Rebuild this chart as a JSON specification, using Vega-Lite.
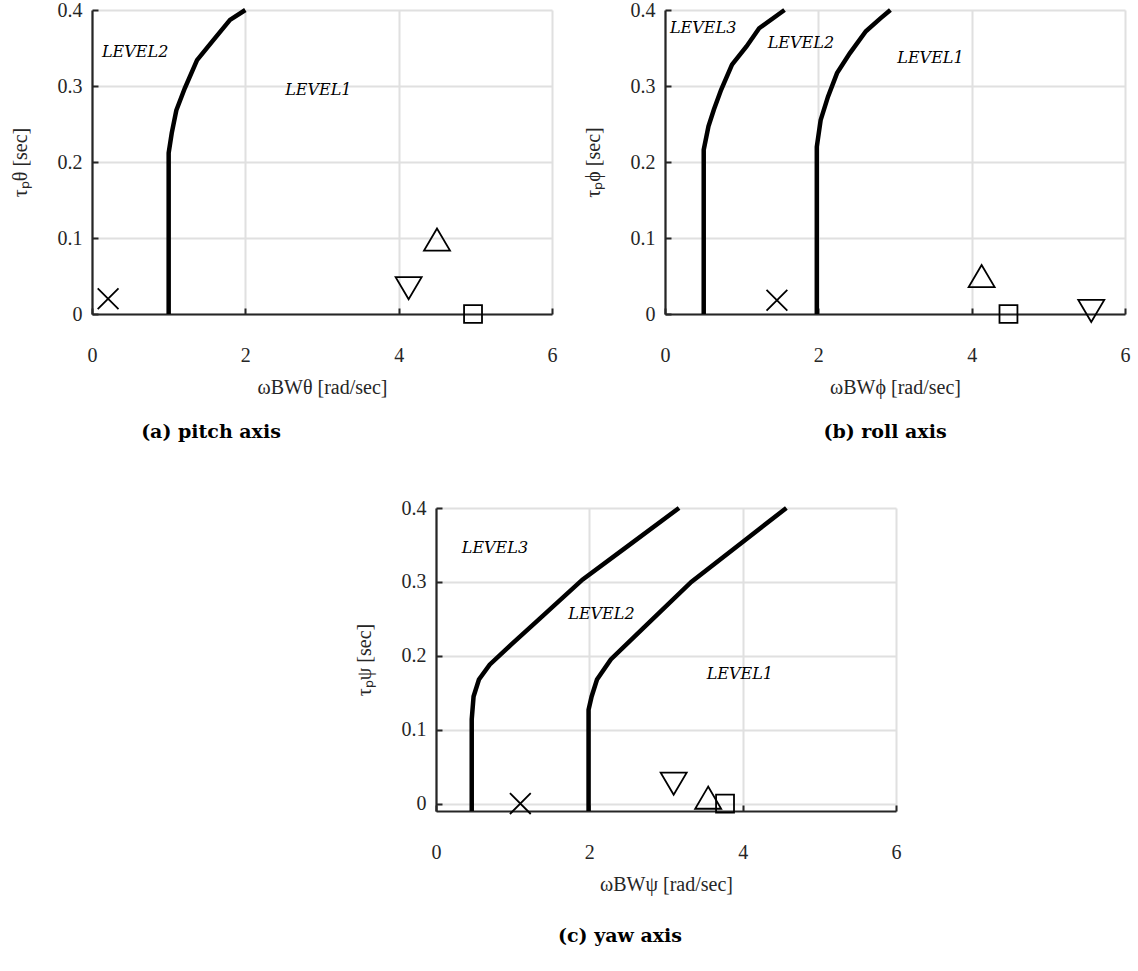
{
  "$schema": "https://vega.github.io/schema/vega-lite/v6.json",
  "background": "white",
  "padding": {"left": 10, "top": 0, "right": 5, "bottom": 5},
  "config": {
    "view": {"stroke": null},
    "concat": {"spacing": 0},
    "axis": {
      "domainColor": "#262626", "domainWidth": 2.2,
      "tickColor": "#262626", "tickWidth": 2, "tickSize": -6,
      "gridColor": "#e0e0e0", "gridWidth": 2, "gridOpacity": 1,
      "labelFont": "Liberation Serif", "labelFontSize": 20, "labelColor": "#262626",
      "labelFlush": false, "labelOverlap": false,
      "titleFont": "Liberation Serif", "titleFontSize": 20, "titleFontWeight": "normal", "titleColor": "#262626"
    },
    "axisX": {"labelPadding": 37, "titlePadding": 12},
    "axisY": {"labelPadding": 16, "titlePadding": 27},
    "title": {"font": "DejaVu Serif", "fontSize": 19, "fontWeight": "bold", "color": "#000000"}
  },
  "datasets": {
    "a_curves": [
      {"curve": "L1", "w": 1.0, "tau": 0.0},
      {"curve": "L1", "w": 1.0, "tau": 0.212},
      {"curve": "L1", "w": 1.04, "tau": 0.238},
      {"curve": "L1", "w": 1.10, "tau": 0.268},
      {"curve": "L1", "w": 1.21, "tau": 0.297},
      {"curve": "L1", "w": 1.37, "tau": 0.334},
      {"curve": "L1", "w": 1.58, "tau": 0.360},
      {"curve": "L1", "w": 1.80, "tau": 0.387},
      {"curve": "L1", "w": 2.0, "tau": 0.4}
    ],
    "a_points": [
      {"m": "x", "w": 0.21, "tau": 0.02},
      {"m": "up", "w": 4.5, "tau": 0.098},
      {"m": "down", "w": 4.13, "tau": 0.034},
      {"m": "square", "w": 4.97, "tau": 0.0}
    ],
    "a_text": [
      {"label": "LEVEL2", "w": 0.13, "tau": 0.345},
      {"label": "LEVEL1", "w": 2.52, "tau": 0.295}
    ],
    "b_curves": [
      {"curve": "L3", "w": 0.505, "tau": 0.0},
      {"curve": "L3", "w": 0.505, "tau": 0.216},
      {"curve": "L3", "w": 0.567, "tau": 0.247},
      {"curve": "L3", "w": 0.638, "tau": 0.269},
      {"curve": "L3", "w": 0.732, "tau": 0.295},
      {"curve": "L3", "w": 0.874, "tau": 0.328},
      {"curve": "L3", "w": 1.063, "tau": 0.352},
      {"curve": "L3", "w": 1.228, "tau": 0.376},
      {"curve": "L3", "w": 1.559, "tau": 0.4},
      {"curve": "L2", "w": 1.98, "tau": 0.0},
      {"curve": "L2", "w": 1.98, "tau": 0.22},
      {"curve": "L2", "w": 2.03, "tau": 0.255},
      {"curve": "L2", "w": 2.126, "tau": 0.286},
      {"curve": "L2", "w": 2.244, "tau": 0.317},
      {"curve": "L2", "w": 2.41, "tau": 0.343},
      {"curve": "L2", "w": 2.62, "tau": 0.372},
      {"curve": "L2", "w": 2.81, "tau": 0.389},
      {"curve": "L2", "w": 2.94, "tau": 0.4}
    ],
    "b_points": [
      {"m": "x", "w": 1.46, "tau": 0.018},
      {"m": "up", "w": 4.13, "tau": 0.05},
      {"m": "square", "w": 4.48, "tau": 0.0},
      {"m": "down", "w": 5.56, "tau": 0.004}
    ],
    "b_text": [
      {"label": "LEVEL3", "w": 0.065, "tau": 0.376},
      {"label": "LEVEL2", "w": 1.34, "tau": 0.357},
      {"label": "LEVEL1", "w": 3.03, "tau": 0.337}
    ],
    "c_curves": [
      {"curve": "L3", "w": 0.466, "tau": -0.01},
      {"curve": "L3", "w": 0.466, "tau": 0.114},
      {"curve": "L3", "w": 0.49, "tau": 0.145},
      {"curve": "L3", "w": 0.56, "tau": 0.168},
      {"curve": "L3", "w": 0.70, "tau": 0.188},
      {"curve": "L3", "w": 0.98, "tau": 0.215},
      {"curve": "L3", "w": 1.35, "tau": 0.250},
      {"curve": "L3", "w": 1.91, "tau": 0.303},
      {"curve": "L3", "w": 2.47, "tau": 0.346},
      {"curve": "L3", "w": 3.17, "tau": 0.4},
      {"curve": "L2", "w": 1.99, "tau": -0.01},
      {"curve": "L2", "w": 1.99, "tau": 0.127},
      {"curve": "L2", "w": 2.03, "tau": 0.145},
      {"curve": "L2", "w": 2.10, "tau": 0.168},
      {"curve": "L2", "w": 2.28, "tau": 0.195},
      {"curve": "L2", "w": 2.70, "tau": 0.237},
      {"curve": "L2", "w": 3.33, "tau": 0.300},
      {"curve": "L2", "w": 4.0, "tau": 0.354},
      {"curve": "L2", "w": 4.57, "tau": 0.4}
    ],
    "c_points": [
      {"m": "x", "w": 1.10, "tau": 0.0},
      {"m": "down", "w": 3.10, "tau": 0.027},
      {"m": "up", "w": 3.55, "tau": 0.008},
      {"m": "square", "w": 3.77, "tau": 0.0}
    ],
    "c_text": [
      {"label": "LEVEL3", "w": 0.336, "tau": 0.346},
      {"label": "LEVEL2", "w": 1.725, "tau": 0.256},
      {"label": "LEVEL1", "w": 3.53, "tau": 0.176}
    ],
    "spacer": [{}]
  },
  "spacing": 56,
  "vconcat": [
    {
      "spacing": 26,
      "hconcat": [
        {
          "width": 460, "height": 304,
          "title": {"text": "(a) pitch axis", "orient": "bottom", "anchor": "middle", "frame": "group", "dx": -111, "offset": 26},
          "layer": [
            {
              "data": {"name": "a_curves"},
              "mark": {"type": "line", "color": "#000000", "strokeWidth": 4.5},
              "encoding": {
                "x": {"field": "w", "type": "quantitative", "scale": {"domain": [0, 6], "nice": false}, "axis": {"values": [0, 2, 4, 6], "format": "d", "title": "ωBWθ  [rad/sec]"}},
                "y": {"field": "tau", "type": "quantitative", "scale": {"domain": [0, 0.4], "nice": false, "zero": false}, "axis": {"values": [0, 0.1, 0.2, 0.3, 0.4], "format": "~g", "title": "τₚθ  [sec]"}},
                "detail": {"field": "curve", "type": "nominal"},
                "order": {"field": "tau", "type": "quantitative"}
              }
            },
            {
              "data": {"name": "a_points"},
              "mark": {"type": "point", "filled": false, "color": "#000000", "strokeWidth": 1.8, "opacity": 1, "size": 676},
              "encoding": {
                "x": {"field": "w", "type": "quantitative", "scale": {"domain": [0, 6], "nice": false}, "axis": {"values": [0, 2, 4, 6], "format": "d", "title": "ωBWθ  [rad/sec]"}},
                "y": {"field": "tau", "type": "quantitative", "scale": {"domain": [0, 0.4], "nice": false, "zero": false}, "axis": {"values": [0, 0.1, 0.2, 0.3, 0.4], "format": "~g", "title": "τₚθ  [sec]"}},
                "shape": {"field": "m", "type": "nominal", "scale": {"domain": ["x", "up", "down", "square"], "range": ["M-0.8,-0.8L0.8,0.8M-0.8,0.8L0.8,-0.8", "M0,-0.85L-1,0.85L1,0.85Z", "M0,0.85L-1,-0.85L1,-0.85Z", "M-0.69,-0.69H0.69V0.69H-0.69Z"]}, "legend": null}
              }
            },
            {
              "data": {"name": "a_text"},
              "mark": {"type": "text", "align": "left", "baseline": "middle", "font": "DejaVu Serif", "fontStyle": "italic", "fontSize": 16, "color": "#000000"},
              "encoding": {
                "x": {"field": "w", "type": "quantitative", "scale": {"domain": [0, 6], "nice": false}, "axis": {"values": [0, 2, 4, 6], "format": "d", "title": "ωBWθ  [rad/sec]"}},
                "y": {"field": "tau", "type": "quantitative", "scale": {"domain": [0, 0.4], "nice": false, "zero": false}, "axis": {"values": [0, 0.1, 0.2, 0.3, 0.4], "format": "~g", "title": "τₚθ  [sec]"}},
                "text": {"field": "label", "type": "nominal"}
              }
            }
          ]
        },
        {
          "width": 460, "height": 304,
          "title": {"text": "(b) roll axis", "orient": "bottom", "anchor": "middle", "frame": "group", "dx": -10, "offset": 26},
          "layer": [
            {
              "data": {"name": "b_curves"},
              "mark": {"type": "line", "color": "#000000", "strokeWidth": 4.5},
              "encoding": {
                "x": {"field": "w", "type": "quantitative", "scale": {"domain": [0, 6], "nice": false}, "axis": {"values": [0, 2, 4, 6], "format": "d", "title": "ωBWϕ  [rad/sec]"}},
                "y": {"field": "tau", "type": "quantitative", "scale": {"domain": [0, 0.4], "nice": false, "zero": false}, "axis": {"values": [0, 0.1, 0.2, 0.3, 0.4], "format": "~g", "title": "τₚϕ  [sec]"}},
                "detail": {"field": "curve", "type": "nominal"},
                "order": {"field": "tau", "type": "quantitative"}
              }
            },
            {
              "data": {"name": "b_points"},
              "mark": {"type": "point", "filled": false, "color": "#000000", "strokeWidth": 1.8, "opacity": 1, "size": 676},
              "encoding": {
                "x": {"field": "w", "type": "quantitative", "scale": {"domain": [0, 6], "nice": false}, "axis": {"values": [0, 2, 4, 6], "format": "d", "title": "ωBWϕ  [rad/sec]"}},
                "y": {"field": "tau", "type": "quantitative", "scale": {"domain": [0, 0.4], "nice": false, "zero": false}, "axis": {"values": [0, 0.1, 0.2, 0.3, 0.4], "format": "~g", "title": "τₚϕ  [sec]"}},
                "shape": {"field": "m", "type": "nominal", "scale": {"domain": ["x", "up", "down", "square"], "range": ["M-0.8,-0.8L0.8,0.8M-0.8,0.8L0.8,-0.8", "M0,-0.85L-1,0.85L1,0.85Z", "M0,0.85L-1,-0.85L1,-0.85Z", "M-0.69,-0.69H0.69V0.69H-0.69Z"]}, "legend": null}
              }
            },
            {
              "data": {"name": "b_text"},
              "mark": {"type": "text", "align": "left", "baseline": "middle", "font": "DejaVu Serif", "fontStyle": "italic", "fontSize": 16, "color": "#000000"},
              "encoding": {
                "x": {"field": "w", "type": "quantitative", "scale": {"domain": [0, 6], "nice": false}, "axis": {"values": [0, 2, 4, 6], "format": "d", "title": "ωBWϕ  [rad/sec]"}},
                "y": {"field": "tau", "type": "quantitative", "scale": {"domain": [0, 0.4], "nice": false, "zero": false}, "axis": {"values": [0, 0.1, 0.2, 0.3, 0.4], "format": "~g", "title": "τₚϕ  [sec]"}},
                "text": {"field": "label", "type": "nominal"}
              }
            }
          ]
        }
      ]
    },
    {
      "spacing": 0,
      "hconcat": [
        {
          "width": 262, "height": 10,
          "data": {"name": "spacer"},
          "mark": {"type": "point", "opacity": 0},
          "encoding": {}
        },
        {
          "width": 460, "height": 303,
          "title": {"text": "(c) yaw axis", "orient": "bottom", "anchor": "middle", "frame": "group", "dx": -46, "offset": 33},
          "layer": [
            {
              "data": {"name": "c_curves"},
              "mark": {"type": "line", "color": "#000000", "strokeWidth": 4.5},
              "encoding": {
                "x": {"field": "w", "type": "quantitative", "scale": {"domain": [0, 6], "nice": false}, "axis": {"values": [0, 2, 4, 6], "format": "d", "title": "ωBWψ  [rad/sec]"}},
                "y": {"field": "tau", "type": "quantitative", "scale": {"domain": [-0.01, 0.4], "nice": false, "zero": false}, "axis": {"values": [0, 0.1, 0.2, 0.3, 0.4], "format": "~g", "title": "τₚψ  [sec]"}},
                "detail": {"field": "curve", "type": "nominal"},
                "order": {"field": "tau", "type": "quantitative"}
              }
            },
            {
              "data": {"name": "c_points"},
              "mark": {"type": "point", "filled": false, "color": "#000000", "strokeWidth": 1.8, "opacity": 1, "size": 676},
              "encoding": {
                "x": {"field": "w", "type": "quantitative", "scale": {"domain": [0, 6], "nice": false}, "axis": {"values": [0, 2, 4, 6], "format": "d", "title": "ωBWψ  [rad/sec]"}},
                "y": {"field": "tau", "type": "quantitative", "scale": {"domain": [-0.01, 0.4], "nice": false, "zero": false}, "axis": {"values": [0, 0.1, 0.2, 0.3, 0.4], "format": "~g", "title": "τₚψ  [sec]"}},
                "shape": {"field": "m", "type": "nominal", "scale": {"domain": ["x", "up", "down", "square"], "range": ["M-0.8,-0.8L0.8,0.8M-0.8,0.8L0.8,-0.8", "M0,-0.85L-1,0.85L1,0.85Z", "M0,0.85L-1,-0.85L1,-0.85Z", "M-0.69,-0.69H0.69V0.69H-0.69Z"]}, "legend": null}
              }
            },
            {
              "data": {"name": "c_text"},
              "mark": {"type": "text", "align": "left", "baseline": "middle", "font": "DejaVu Serif", "fontStyle": "italic", "fontSize": 16, "color": "#000000"},
              "encoding": {
                "x": {"field": "w", "type": "quantitative", "scale": {"domain": [0, 6], "nice": false}, "axis": {"values": [0, 2, 4, 6], "format": "d", "title": "ωBWψ  [rad/sec]"}},
                "y": {"field": "tau", "type": "quantitative", "scale": {"domain": [-0.01, 0.4], "nice": false, "zero": false}, "axis": {"values": [0, 0.1, 0.2, 0.3, 0.4], "format": "~g", "title": "τₚψ  [sec]"}},
                "text": {"field": "label", "type": "nominal"}
              }
            }
          ]
        }
      ]
    }
  ]
}
